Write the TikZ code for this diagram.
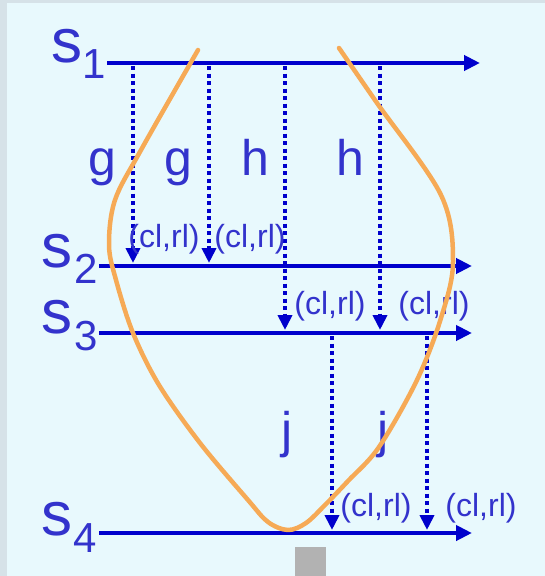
\documentclass[tikz,border=0pt]{standalone}
\usepackage{fontspec}
\setmainfont{Liberation Sans}
\usetikzlibrary{arrows.meta}
\definecolor{txt}{RGB}{51,51,204}
\definecolor{ln}{RGB}{0,0,204}
\definecolor{crayon}{RGB}{246,170,86}
\definecolor{panel}{RGB}{232,249,253}
\definecolor{framec}{RGB}{214,226,232}
\definecolor{greybox}{RGB}{178,178,178}
\tikzset{
  timeline/.style={draw=ln, line width=4pt, -{Triangle[length=16pt,width=15pt]}},
  msg/.style={draw=ln, line width=4.3pt, dash pattern=on 4pt off 3.5pt, -{Triangle[length=15pt,width=14pt]}},
  plab/.style={text=txt, inner sep=0pt, anchor=base west, font=\fontsize{62}{70}\selectfont},
  sublab/.style={text=txt, inner sep=0pt, anchor=base west, font=\fontsize{42}{50}\selectfont},
  mlab/.style={text=txt, inner sep=0pt, anchor=base, font=\fontsize{50}{60}\selectfont},
  crl/.style={text=txt, inner sep=0pt, anchor=base, font=\fontsize{32}{38}\selectfont},
  crayonline/.style={draw=crayon, line width=4.5pt, line cap=round, line join=round}
}
\begin{document}
\begin{tikzpicture}[x=1pt,y=-1pt]
\fill[framec] (0,0) rectangle (545,576);
\fill[panel] (7,3) rectangle (545,576);
\useasboundingbox (0,0) rectangle (545,576);

% timelines
\coordinate (t1s) at (107,63); \coordinate (t1e) at (480,63);
\coordinate (t2s) at (99,266); \coordinate (t2e) at (472,266);
\coordinate (t3s) at (99,333); \coordinate (t3e) at (472,333);
\coordinate (t4s) at (99,533); \coordinate (t4e) at (472,533);
\draw[timeline] (t1s) -- (t1e);
\draw[timeline] (t2s) -- (t2e);
\draw[timeline] (t3s) -- (t3e);
\draw[timeline] (t4s) -- (t4e);

% process labels
\node[plab] (s1) at (51,62) {s};
\node[sublab] (s1i) at (82,78) {1};
\node[plab] (s2) at (41,267) {s};
\node[sublab] (s2i) at (74,283) {2};
\node[plab] (s3) at (41,333) {s};
\node[sublab] (s3i) at (74,350) {3};
\node[plab] (s4) at (41,535) {s};
\node[sublab] (s4i) at (73,552) {4};

% messages
\coordinate (g1a) at (133,66); \coordinate (g1b) at (133,263);
\coordinate (g2a) at (209,66); \coordinate (g2b) at (209,263);
\coordinate (h1a) at (285,66); \coordinate (h1b) at (285,330);
\coordinate (h2a) at (380,66); \coordinate (h2b) at (380,330);
\coordinate (j1a) at (332,336); \coordinate (j1b) at (332,530);
\coordinate (j2a) at (427,336); \coordinate (j2b) at (427,530);
\draw[msg] (g1a) -- (g1b);
\draw[msg] (g2a) -- (g2b);
\draw[msg] (h1a) -- (h1b);
\draw[msg] (h2a) -- (h2b);
\draw[msg] (j1a) -- (j1b);
\draw[msg] (j2a) -- (j2b);

% message labels
\node[mlab] (lg1) at (102,175) {g};
\node[mlab] (lg2) at (178,175) {g};
\node[mlab] (lh1) at (255,175) {h};
\node[mlab] (lh2) at (350,175) {h};
\node[mlab] (lj1) at (287,447) {j};
\node[mlab] (lj2) at (383,447) {j};

% (cl,rl) labels
\node[crl] (c1) at (164,247) {(cl,rl)};
\node[crl] (c2) at (250,247) {(cl,rl)};
\node[crl] (c3) at (330,314) {(cl,rl)};
\node[crl] (c4) at (434,314) {(cl,rl)};
\node[crl] (c5) at (376,516) {(cl,rl)};
\node[crl] (c6) at (481,516) {(cl,rl)};

% grey box
\fill[greybox] (295,547) rectangle (326,576);

% crayon cut
\draw[crayonline] plot[smooth, tension=0.55] coordinates {
 (339,48) (377,103) (441,195) (453,262) (441,318) (417,380) (379,447)
 (348,481) (325,505) (306,523) (288,530) (268,522) (248,500) (200,443)
 (159,385) (133,333) (116,280) (109,245) (115,200) (141,150) (198,50)};
\end{tikzpicture}
\end{document}
